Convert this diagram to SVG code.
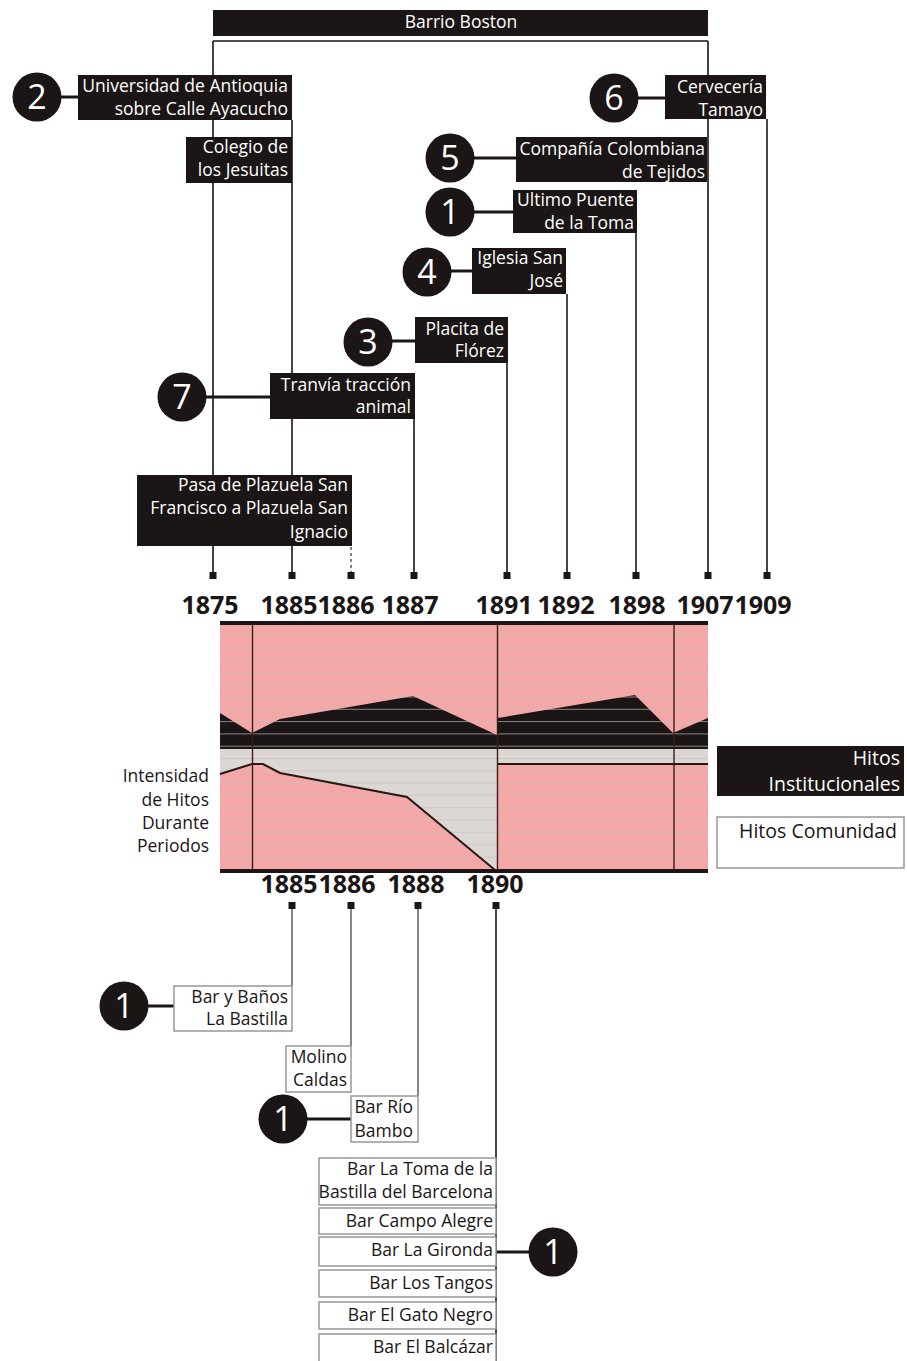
<svg xmlns="http://www.w3.org/2000/svg" width="907" height="1361" viewBox="0 0 907 1361">
  <style>
    .f { font-family: 'Open Sans', 'Liberation Sans', sans-serif; }
    .box { fill: #1b1515; }
    .wt { fill: #ffffff; font-size: 17.5px; text-anchor: end; }
    .dt { fill: #1b1515; font-size: 17.5px; text-anchor: end; }
    .num { fill: #ffffff; font-size: 34px; text-anchor: middle; }
    .yr { fill: #1b1515; font-size: 25px; font-weight: 700; text-anchor: middle; }
    .vline { stroke: #1b1515; stroke-width: 1.6; fill: none; }
    .gline { stroke: #7a7676; stroke-width: 1.8; fill: none; }
    .conn { stroke: #1b1515; stroke-width: 3; fill: none; }
    .wbox { fill: #ffffff; stroke: #9a9696; stroke-width: 1.5; }
    .mk { fill: #1b1515; }
  </style>

  <!-- connectors: year leaders, frame lines and circle links -->
  <g id="connectors">
    <!-- frame of Barrio Boston -->
    <path class="vline" d="M213,41 H708 M213,41 V575 M708,41 V575"/>
    <!-- upper year leaders -->
    <path class="vline" d="M292,120 V575"/>
    <path class="gline" d="M351,547 V572" stroke-dasharray="3,3"/>
    <path class="vline" d="M414,419 V575"/>
    <path class="vline" d="M507,363 V575"/>
    <path class="vline" d="M567,294 V575"/>
    <path class="vline" d="M636,233 V575"/>
    <path class="vline" d="M767,119 V575"/>
    <!-- lower year leaders -->
    <path class="gline" d="M292,905 V986"/>
    <path class="gline" d="M351,905 V1046"/>
    <path class="gline" d="M418,905 V1096"/>
    <path class="vline" d="M496,905 V1361" stroke-width="2"/>
    <!-- circle links -->
    <path class="conn" d="M61,97 H80"/>
    <path class="conn" d="M638,98 H666"/>
    <path class="conn" d="M474,158 H517"/>
    <path class="conn" d="M474,212 H514"/>
    <path class="conn" d="M451,271 H473"/>
    <path class="conn" d="M392,341 H416"/>
    <path class="conn" d="M206,397 H271"/>
    <path class="conn" d="M148,1006 H175"/>
    <path class="conn" d="M307,1119 H352"/>
    <path class="conn" d="M496,1252 H529"/>
    <!-- year markers -->
    <g class="mk">
      <rect x="209.5" y="572" width="7" height="7"/>
      <rect x="288.5" y="572" width="7" height="7"/>
      <rect x="347.5" y="572" width="7" height="7"/>
      <rect x="410.5" y="572" width="7" height="7"/>
      <rect x="503.5" y="572" width="7" height="7"/>
      <rect x="563.5" y="572" width="7" height="7"/>
      <rect x="632.5" y="572" width="7" height="7"/>
      <rect x="704.5" y="572" width="7" height="7"/>
      <rect x="763.5" y="572" width="7" height="7"/>
      <rect x="288.5" y="902" width="7" height="7"/>
      <rect x="347.5" y="902" width="7" height="7"/>
      <rect x="414.5" y="902" width="7" height="7"/>
      <rect x="492.5" y="902" width="7" height="7"/>
    </g>
  </g>

  <!-- banner -->
  <g id="barrio-boston">
    <rect class="box" x="213" y="10" width="495" height="26"/>
    <text class="f" x="461" y="28" fill="#fff" font-size="17.5" text-anchor="middle">Barrio Boston</text>
  </g>

  <!-- institutional milestones -->
  <g id="universidad">
    <circle class="box" cx="37" cy="97" r="24.5"/>
    <text class="f num" x="37" y="109">2</text>
    <rect class="box" x="78" y="75" width="214" height="45"/>
    <text class="f wt" x="288" y="92">Universidad de Antioquia</text>
    <text class="f wt" x="288" y="115">sobre Calle Ayacucho</text>
  </g>
  <g id="colegio">
    <rect class="box" x="186" y="137" width="106" height="46"/>
    <text class="f wt" x="288" y="153">Colegio de</text>
    <text class="f wt" x="288" y="176">los Jesuitas</text>
  </g>
  <g id="cerveceria">
    <circle class="box" cx="614" cy="98" r="24.5"/>
    <text class="f num" x="614" y="110">6</text>
    <rect class="box" x="665" y="75" width="101" height="44"/>
    <text class="f wt" x="763" y="93">Cervecería</text>
    <text class="f wt" x="763" y="116">Tamayo</text>
  </g>
  <g id="tejidos">
    <circle class="box" cx="450" cy="158" r="24.5"/>
    <text class="f num" x="450" y="170">5</text>
    <rect class="box" x="516" y="137" width="191" height="45"/>
    <text class="f wt" x="705" y="155">Compañía Colombiana</text>
    <text class="f wt" x="705" y="178">de Tejidos</text>
  </g>
  <g id="puente">
    <circle class="box" cx="450" cy="212" r="24.5"/>
    <text class="f num" x="450" y="224">1</text>
    <rect class="box" x="513" y="190" width="124" height="43"/>
    <text class="f wt" x="634" y="206">Ultimo Puente</text>
    <text class="f wt" x="634" y="229">de la Toma</text>
  </g>
  <g id="iglesia">
    <circle class="box" cx="427" cy="272" r="24.5"/>
    <text class="f num" x="427" y="284">4</text>
    <rect class="box" x="472" y="248" width="94" height="46"/>
    <text class="f wt" x="563" y="264">Iglesia San</text>
    <text class="f wt" x="563" y="287">José</text>
  </g>
  <g id="placita">
    <circle class="box" cx="368" cy="342" r="24.5"/>
    <text class="f num" x="368" y="354">3</text>
    <rect class="box" x="415" y="317" width="93" height="46"/>
    <text class="f wt" x="504" y="335">Placita de</text>
    <text class="f wt" x="504" y="357">Flórez</text>
  </g>
  <g id="tranvia">
    <circle class="box" cx="182" cy="397" r="24.5"/>
    <text class="f num" x="182" y="409">7</text>
    <rect class="box" x="270" y="373" width="145" height="46"/>
    <text class="f wt" x="411" y="391">Tranvía tracción</text>
    <text class="f wt" x="411" y="413">animal</text>
  </g>
  <g id="plazuela">
    <rect class="box" x="137" y="475" width="215" height="71"/>
    <text class="f wt" x="348" y="491">Pasa de Plazuela San</text>
    <text class="f wt" x="348" y="514">Francisco a Plazuela San</text>
    <text class="f wt" x="348" y="538">Ignacio</text>
  </g>

  <!-- year axes -->
  <g id="years-top">
    <text class="f yr" x="210" y="614">1875</text>
    <text class="f yr" x="289" y="614">1885</text>
    <text class="f yr" x="346" y="614">1886</text>
    <text class="f yr" x="410" y="614">1887</text>
    <text class="f yr" x="504" y="614">1891</text>
    <text class="f yr" x="566" y="614">1892</text>
    <text class="f yr" x="637" y="614">1898</text>
    <text class="f yr" x="705" y="614">1907</text>
    <text class="f yr" x="763" y="614">1909</text>
  </g>
  <g id="years-bottom">
    <text class="f yr" x="289" y="893">1885</text>
    <text class="f yr" x="347" y="893">1886</text>
    <text class="f yr" x="416" y="893">1888</text>
    <text class="f yr" x="495" y="893">1890</text>
  </g>

  <!-- intensity chart -->
  <g id="chart">
    <rect x="220" y="625" width="488" height="245" fill="#f3a8a7"/>
    <polygon fill="#1b1515" points="220,713 252,733 280,719 413,696 497,735 498,718 635,695 673,733 708,718 708,749 220,749"/>
    <rect x="220" y="749" width="488" height="15" fill="#dcd7d3"/>
    <polygon fill="#dcd7d3" points="220,749 497,749 497,870 495,870 407,797 280,773 263,764 252,764 220,774"/>
    <path stroke="#c9bebe" stroke-opacity="0.65" stroke-width="1" fill="none"
      d="M220,635.5 H708 M220,647.8 H708 M220,660.1 H708 M220,672.4 H708 M220,684.7 H708 M220,697 H708 M220,709.3 H708 M220,721.6 H708 M220,733.9 H708 M220,746.2 H708 M220,758.5 H708 M220,770.8 H708 M220,783.1 H708 M220,795.4 H708 M220,807.7 H708 M220,820 H708 M220,832.3 H708 M220,844.6 H708 M220,856.9 H708"/>
    <polyline fill="none" stroke="#2a1717" stroke-width="2" points="220,774 252,764 263,764 280,773 407,797 495,870"/>
    <path fill="none" stroke="#2a1717" stroke-width="2" d="M497,764 H708"/>
    <path fill="none" stroke="#3a1c1c" stroke-width="1.4" d="M252.5,625 V870 M497.5,625 V870 M674,625 V870"/>
    <rect x="220" y="621" width="488" height="4" fill="#1b1515"/>
    <rect x="220" y="869" width="488" height="4" fill="#1b1515"/>
    <text class="f dt" x="209" y="782">Intensidad</text>
    <text class="f dt" x="209" y="806">de Hitos</text>
    <text class="f dt" x="209" y="829">Durante</text>
    <text class="f dt" x="209" y="852">Periodos</text>
  </g>

  <!-- legend -->
  <g id="legend-institucionales">
    <rect class="box" x="717" y="746" width="187" height="50"/>
    <text class="f" x="900" y="765" fill="#fff" font-size="19.5" text-anchor="end">Hitos</text>
    <text class="f" x="900" y="791" fill="#fff" font-size="19.5" text-anchor="end">Institucionales</text>
  </g>
  <g id="legend-comunidad">
    <rect class="wbox" x="717" y="817" width="187" height="51"/>
    <text class="f" x="897" y="838" fill="#1b1515" font-size="19.5" text-anchor="end">Hitos Comunidad</text>
  </g>

  <!-- community milestones -->
  <g id="bar-banos">
    <circle class="box" cx="124" cy="1006" r="24.5"/>
    <text class="f num" x="124" y="1018">1</text>
    <rect class="wbox" x="174" y="986" width="118" height="45"/>
    <text class="f dt" x="288" y="1003">Bar y Baños</text>
    <text class="f dt" x="288" y="1025">La Bastilla</text>
  </g>
  <g id="molino">
    <rect class="wbox" x="286" y="1046" width="65" height="46"/>
    <text class="f dt" x="347" y="1063">Molino</text>
    <text class="f dt" x="347" y="1086">Caldas</text>
  </g>
  <g id="bar-rio">
    <circle class="box" cx="283" cy="1119" r="24.5"/>
    <text class="f num" x="283" y="1131">1</text>
    <rect class="wbox" x="351" y="1096" width="67" height="46"/>
    <text class="f dt" x="413" y="1113">Bar Río</text>
    <text class="f dt" x="413" y="1137">Bambo</text>
  </g>
  <g id="bares-1890">
    <circle class="box" cx="553" cy="1252" r="24.5"/>
    <text class="f num" x="553" y="1264">1</text>
    <rect class="wbox" x="319" y="1158" width="177" height="47"/>
    <text class="f dt" x="493" y="1175">Bar La Toma de la</text>
    <text class="f dt" x="493" y="1198">Bastilla del Barcelona</text>
    <rect class="wbox" x="319" y="1208" width="177" height="26"/>
    <text class="f dt" x="493" y="1227">Bar Campo Alegre</text>
    <rect class="wbox" x="319" y="1237" width="177" height="29"/>
    <text class="f dt" x="493" y="1256">Bar La Gironda</text>
    <rect class="wbox" x="319" y="1270" width="177" height="27"/>
    <text class="f dt" x="493" y="1289">Bar Los Tangos</text>
    <rect class="wbox" x="319" y="1302" width="177" height="27"/>
    <text class="f dt" x="493" y="1321">Bar El Gato Negro</text>
    <rect class="wbox" x="319" y="1334" width="177" height="30"/>
    <text class="f dt" x="493" y="1353">Bar El Balcázar</text>
  </g>
</svg>
